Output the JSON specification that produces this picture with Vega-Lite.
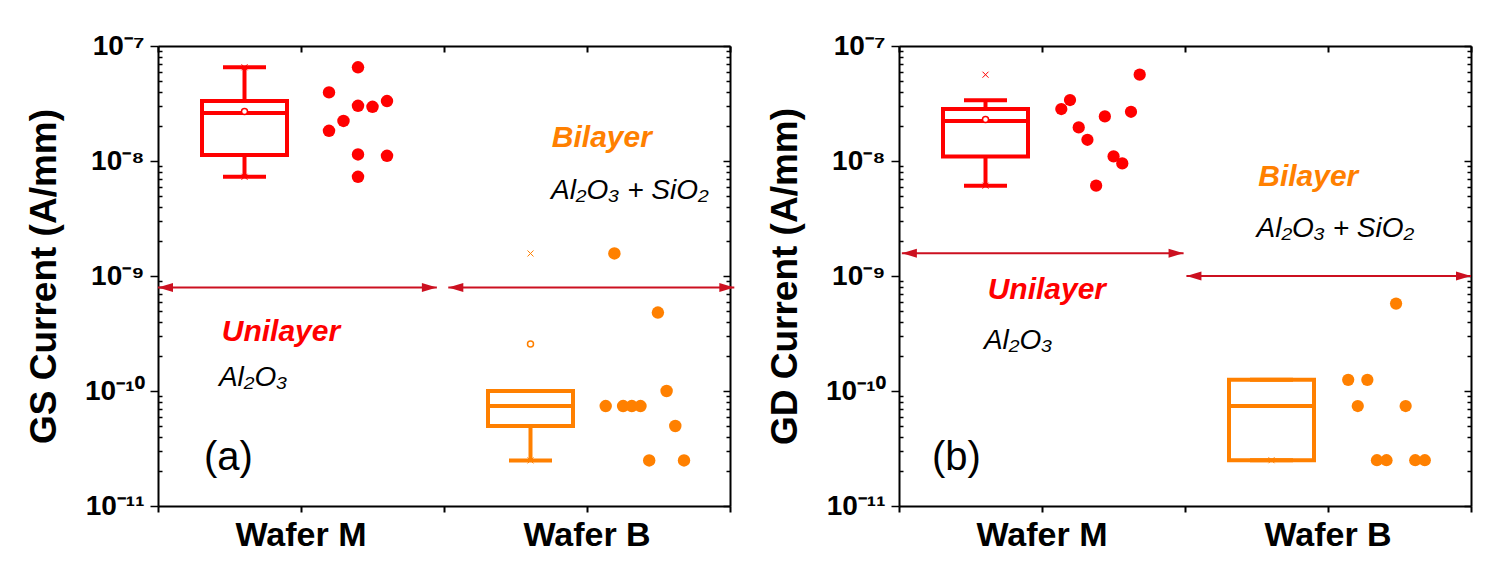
{
  "$schema": "https://vega.github.io/schema/vega-lite/v6.json",
  "background": "white",
  "padding": {"left": 25, "top": 32, "right": 8, "bottom": 5},
  "config": {"font": "Liberation Sans", "view": {"stroke": null}},
  "spacing": 169,
  "bounds": "flush",
  "datasets": {
    "ptsAM": [
      {"wafer": "Wafer M", "slot": 0, "v": 3.95e-8}, {"wafer": "Wafer M", "slot": 0, "v": 1.83e-8},
      {"wafer": "Wafer M", "slot": 1, "v": 2.23e-8}, {"wafer": "Wafer M", "slot": 2, "v": 6.53e-8},
      {"wafer": "Wafer M", "slot": 2, "v": 3.02e-8}, {"wafer": "Wafer M", "slot": 2, "v": 1.14e-8},
      {"wafer": "Wafer M", "slot": 2, "v": 7.29e-9}, {"wafer": "Wafer M", "slot": 3, "v": 2.96e-8},
      {"wafer": "Wafer M", "slot": 4, "v": 3.32e-8}, {"wafer": "Wafer M", "slot": 4, "v": 1.11e-8}
    ],
    "ptsAB": [
      {"wafer": "Wafer B", "slot": 0, "v": 7.4e-11}, {"wafer": "Wafer B", "slot": 1, "v": 1.57e-9},
      {"wafer": "Wafer B", "slot": 2, "v": 7.4e-11}, {"wafer": "Wafer B", "slot": 3, "v": 7.4e-11},
      {"wafer": "Wafer B", "slot": 4, "v": 7.4e-11}, {"wafer": "Wafer B", "slot": 5, "v": 2.49e-11},
      {"wafer": "Wafer B", "slot": 6, "v": 4.81e-10}, {"wafer": "Wafer B", "slot": 7, "v": 1.0e-10},
      {"wafer": "Wafer B", "slot": 8, "v": 4.96e-11}, {"wafer": "Wafer B", "slot": 9, "v": 2.49e-11}
    ],
    "ptsBM": [
      {"wafer": "Wafer M", "slot": 0, "v": 2.83e-8}, {"wafer": "Wafer M", "slot": 1, "v": 3.39e-8},
      {"wafer": "Wafer M", "slot": 2, "v": 1.96e-8}, {"wafer": "Wafer M", "slot": 3, "v": 1.53e-8},
      {"wafer": "Wafer M", "slot": 4, "v": 6.1e-9}, {"wafer": "Wafer M", "slot": 5, "v": 2.44e-8},
      {"wafer": "Wafer M", "slot": 6, "v": 1.096e-8}, {"wafer": "Wafer M", "slot": 7, "v": 9.53e-9},
      {"wafer": "Wafer M", "slot": 8, "v": 2.68e-8}, {"wafer": "Wafer M", "slot": 9, "v": 5.63e-8}
    ],
    "ptsBB": [
      {"wafer": "Wafer B", "slot": 0, "v": 1.25e-10}, {"wafer": "Wafer B", "slot": 1, "v": 7.4e-11},
      {"wafer": "Wafer B", "slot": 2, "v": 1.25e-10}, {"wafer": "Wafer B", "slot": 3, "v": 2.5e-11},
      {"wafer": "Wafer B", "slot": 4, "v": 2.5e-11}, {"wafer": "Wafer B", "slot": 5, "v": 5.76e-10},
      {"wafer": "Wafer B", "slot": 6, "v": 7.4e-11}, {"wafer": "Wafer B", "slot": 7, "v": 2.5e-11},
      {"wafer": "Wafer B", "slot": 8, "v": 2.5e-11}
    ],
    "boxA": [
      {"wafer": "Wafer M", "q1": 1.125e-8, "med": 2.61e-8, "q3": 3.32e-8, "lo": 7.29e-9, "hi": 6.53e-8, "mean": 2.7e-8},
      {"wafer": "Wafer B", "q1": 4.96e-11, "med": 7.4e-11, "q3": 1.0e-10, "lo": 2.49e-11, "hi": 1.0e-10, "mean": 2.56e-10}
    ],
    "boxB": [
      {"wafer": "Wafer M", "q1": 1.096e-8, "med": 2.23e-8, "q3": 2.83e-8, "lo": 6.1e-9, "hi": 3.37e-8, "mean": 2.3e-8},
      {"wafer": "Wafer B", "q1": 2.5e-11, "med": 7.4e-11, "q3": 1.25e-10, "lo": 2.5e-11, "hi": 1.25e-10, "mean": null}
    ],
    "extA": [
      {"wafer": "Wafer M", "v": 6.53e-8}, {"wafer": "Wafer M", "v": 7.29e-9},
      {"wafer": "Wafer B", "v": 1.57e-9}, {"wafer": "Wafer B", "v": 2.49e-11}
    ],
    "extB": [
      {"wafer": "Wafer M", "v": 5.63e-8}, {"wafer": "Wafer M", "v": 6.1e-9},
      {"wafer": "Wafer B", "v": 2.5e-11}
    ],
    "arrA": [{"wafer": "Wafer M", "v": 7.94e-10}, {"wafer": "Wafer B", "v": 7.94e-10}],
    "arrB": [{"wafer": "Wafer M", "v": 1.58e-9}, {"wafer": "Wafer B", "v": 1.0e-9}]
  },
  "hconcat": [
    {
      "width": 572,
      "height": 460,
      "layer": [
        {
          "data": {"name": "boxA"},
          "mark": {"type": "point", "opacity": 0},
          "encoding": {
            "x": {"field": "wafer", "type": "nominal", "scale": {"domain": ["Wafer M", "Wafer B"], "paddingInner": 0, "paddingOuter": 0},
              "axis": {"orient": "bottom", "title": null, "labelAngle": 0, "labelFont": "Liberation Sans", "labelFontWeight": "bold", "labelFontSize": 34, "labelColor": "black", "labelPadding": 6, "tickSize": 6, "tickWidth": 2, "tickColor": "black", "domainWidth": 2, "domainColor": "black", "grid": false}},
            "y": {"field": "med", "type": "quantitative", "scale": {"type": "log", "domain": [1e-11, 1e-7]},
              "axis": {"orient": "left", "title": "GS Current (A/mm)", "grid": false,
                "values": [1e-11,2e-11,3e-11,4e-11,5e-11,6e-11,7e-11,8e-11,9e-11,1e-10,2e-10,3e-10,4e-10,5e-10,6e-10,7e-10,8e-10,9e-10,1e-9,2e-9,3e-9,4e-9,5e-9,6e-9,7e-9,8e-9,9e-9,1e-8,2e-8,3e-8,4e-8,5e-8,6e-8,7e-8,8e-8,9e-8,1e-7],
                "labelExpr": "abs(log(datum.value)/LN10 - round(log(datum.value)/LN10)) >= 0.001 ? '' : round(log(datum.value)/LN10) == -7 ? '10⁻⁷' : round(log(datum.value)/LN10) == -8 ? '10⁻⁸' : round(log(datum.value)/LN10) == -9 ? '10⁻⁹' : round(log(datum.value)/LN10) == -10 ? '10⁻¹⁰' : '10⁻¹¹'",
                "labelFont": "Liberation Sans", "labelFontWeight": "bold", "labelFontSize": 28, "labelColor": "black", "labelPadding": 6, "labelOverlap": false, "labelFlush": false,
                "tickSize": {"condition": {"test": "abs(log(datum.value)/LN10 - round(log(datum.value)/LN10)) < 0.001", "value": 8}, "value": -4},
                "tickWidth": 1.5, "tickColor": "black", "domainWidth": 2, "domainColor": "black",
                "titleFont": "Liberation Sans", "titleFontWeight": "bold", "titleFontSize": 37, "titleColor": "black", "titlePadding": 21}}
          }
        },
        {
          "data": {"name": "boxA"},
          "mark": {"type": "point", "opacity": 0},
          "encoding": {
            "x": {"field": "wafer", "type": "nominal", "scale": {"domain": ["Wafer M", "Wafer B"], "paddingInner": 0, "paddingOuter": 0},
              "axis": {"orient": "top", "title": null, "labels": false, "tickBand": "extent", "tickSize": -6, "tickWidth": 2, "tickColor": "black", "domainWidth": 2, "domainColor": "black", "grid": false}},
            "y": {"field": "med", "type": "quantitative", "scale": {"type": "log", "domain": [1e-11, 1e-7]},
              "axis": {"orient": "right", "title": null, "labels": false, "grid": false,
                "values": [1e-11,2e-11,3e-11,4e-11,5e-11,6e-11,7e-11,8e-11,9e-11,1e-10,2e-10,3e-10,4e-10,5e-10,6e-10,7e-10,8e-10,9e-10,1e-9,2e-9,3e-9,4e-9,5e-9,6e-9,7e-9,8e-9,9e-9,1e-8,2e-8,3e-8,4e-8,5e-8,6e-8,7e-8,8e-8,9e-8,1e-7],
                "tickSize": {"condition": {"test": "abs(log(datum.value)/LN10 - round(log(datum.value)/LN10)) < 0.001", "value": -7}, "value": -4},
                "tickWidth": 1.5, "tickColor": "black", "domainWidth": 2, "domainColor": "black"}}
          }
        },
        {
          "data": {"name": "boxA"},
          "mark": {"type": "point", "opacity": 0},
          "encoding": {
            "x": {"field": "wafer", "type": "nominal", "scale": {"domain": ["Wafer M", "Wafer B"], "paddingInner": 0, "paddingOuter": 0},
              "axis": {"orient": "bottom", "title": null, "labels": false, "tickBand": "extent", "tickSize": 6, "tickWidth": 2, "tickColor": "black", "domain": false, "grid": false}},
            "y": {"field": "med", "type": "quantitative", "scale": {"type": "log", "domain": [1e-11, 1e-7]}, "axis": null}
          }
        },
        {
          "data": {"name": "boxA"},
          "mark": {"type": "point", "opacity": 0},
          "encoding": {
            "x": {"field": "wafer", "type": "nominal", "scale": {"domain": ["Wafer M", "Wafer B"], "paddingInner": 0, "paddingOuter": 0},
              "axis": {"orient": "top", "title": null, "labels": false, "tickSize": -6, "tickWidth": 2, "tickColor": "black", "domain": false, "grid": false}},
            "y": {"field": "med", "type": "quantitative", "scale": {"type": "log", "domain": [1e-11, 1e-7]}, "axis": null}
          }
        },
        {
          "data": {"name": "arrA"},
          "transform": [{"filter": "datum.wafer == 'Wafer M'"}],
          "encoding": {"y": {"field": "v", "type": "quantitative", "axis": null}},
          "layer": [
            {"mark": {"type": "rule", "color": "#cc1020", "strokeWidth": 2},
              "encoding": {"x": {"field": "wafer", "type": "nominal", "bandPosition": 0.0, "axis": null}, "x2": {"field": "wafer", "bandPosition": 0.975}}},
            {"mark": {"type": "point", "shape": "M0,0L1,-0.3L1,0.3Z", "size": 900, "filled": true, "color": "#cc1020", "opacity": 1},
              "encoding": {"x": {"field": "wafer", "type": "nominal", "bandPosition": 0.0, "axis": null}}},
            {"mark": {"type": "point", "shape": "M0,0L-1,-0.3L-1,0.3Z", "size": 900, "filled": true, "color": "#cc1020", "opacity": 1},
              "encoding": {"x": {"field": "wafer", "type": "nominal", "bandPosition": 0.975, "axis": null}}}
          ]
        },
        {
          "data": {"name": "arrA"},
          "transform": [{"filter": "datum.wafer == 'Wafer B'"}],
          "encoding": {"y": {"field": "v", "type": "quantitative", "axis": null}},
          "layer": [
            {"mark": {"type": "rule", "color": "#cc1020", "strokeWidth": 2},
              "encoding": {"x": {"field": "wafer", "type": "nominal", "bandPosition": 0.015, "axis": null}, "x2": {"field": "wafer", "bandPosition": 1.015}}},
            {"mark": {"type": "point", "shape": "M0,0L1,-0.3L1,0.3Z", "size": 900, "filled": true, "color": "#cc1020", "opacity": 1},
              "encoding": {"x": {"field": "wafer", "type": "nominal", "bandPosition": 0.015, "axis": null}}},
            {"mark": {"type": "point", "shape": "M0,0L-1,-0.3L-1,0.3Z", "size": 900, "filled": true, "color": "#cc1020", "opacity": 1},
              "encoding": {"x": {"field": "wafer", "type": "nominal", "bandPosition": 1.015, "axis": null}}}
          ]
        },
        {
          "data": {"name": "boxA"},
          "encoding": {
            "x": {"field": "wafer", "type": "nominal", "axis": null},
            "xOffset": {"datum": "box", "type": "nominal", "scale": {"domain": ["box"], "paddingInner": 0, "paddingOuter": 0, "range": [44, 129]}},
            "color": {"field": "wafer", "type": "nominal", "scale": {"domain": ["Wafer M", "Wafer B"], "range": ["#ff0000", "#ff8000"]}, "legend": null}
          },
          "layer": [
            {"mark": {"type": "rule", "strokeWidth": 4, "opacity": 1}, "encoding": {"y": {"field": "lo", "type": "quantitative", "axis": null}, "y2": {"field": "hi"}}},
            {"mark": {"type": "bar", "fill": "white", "strokeWidth": 4, "opacity": 1}, "encoding": {"y": {"field": "q1", "type": "quantitative", "axis": null}, "y2": {"field": "q3"}, "stroke": {"field": "wafer", "type": "nominal", "scale": {"domain": ["Wafer M", "Wafer B"], "range": ["#ff0000", "#ff8000"]}, "legend": null}}},
            {"mark": {"type": "tick", "size": 85, "thickness": 4, "opacity": 1}, "encoding": {"y": {"field": "med", "type": "quantitative", "axis": null}}},
            {"mark": {"type": "tick", "size": 43, "thickness": 4, "opacity": 1}, "encoding": {"y": {"field": "lo", "type": "quantitative", "axis": null}}},
            {"mark": {"type": "tick", "size": 43, "thickness": 4, "opacity": 1}, "encoding": {"y": {"field": "hi", "type": "quantitative", "axis": null}}},
            {"mark": {"type": "point", "shape": "circle", "size": 36, "filled": false, "fill": "white", "strokeWidth": 1.5, "opacity": 1}, "encoding": {"y": {"field": "mean", "type": "quantitative", "axis": null}}},
            {"data": {"name": "extA"}, "mark": {"type": "point", "shape": "M-1,-1L1,1M-1,1L1,-1", "size": 36, "filled": false, "strokeWidth": 1, "opacity": 1}, "encoding": {"y": {"field": "v", "type": "quantitative", "axis": null}}}
          ]
        },
        {
          "data": {"name": "ptsAM"},
          "mark": {"type": "point", "shape": "circle", "filled": true, "size": 155, "opacity": 1},
          "encoding": {
            "x": {"field": "wafer", "type": "nominal", "axis": null},
            "xOffset": {"field": "slot", "type": "ordinal", "scale": {"type": "point", "domain": [0, 1, 2, 3, 4], "padding": 0, "range": [171, 229]}},
            "y": {"field": "v", "type": "quantitative", "axis": null},
            "color": {"field": "wafer", "type": "nominal", "scale": {"domain": ["Wafer M", "Wafer B"], "range": ["#ff0000", "#ff8000"]}, "legend": null}
          }
        },
        {
          "data": {"name": "ptsAB"},
          "mark": {"type": "point", "shape": "circle", "filled": true, "size": 155, "opacity": 1},
          "encoding": {
            "x": {"field": "wafer", "type": "nominal", "axis": null},
            "xOffset": {"field": "slot", "type": "ordinal", "scale": {"type": "point", "domain": [0, 1, 2, 3, 4, 5, 6, 7, 8, 9], "padding": 0, "range": [161.7, 240]}},
            "y": {"field": "v", "type": "quantitative", "axis": null},
            "color": {"field": "wafer", "type": "nominal", "scale": {"domain": ["Wafer M", "Wafer B"], "range": ["#ff0000", "#ff8000"]}, "legend": null}
          }
        },
        {
          "data": {"values": [{"wafer": "Wafer M", "v": 2.72e-10, "t": "Unilayer"}]},
          "mark": {"type": "text", "align": "left", "baseline": "alphabetic", "font": "Liberation Sans", "fontSize": 30, "fontWeight": "bold", "fontStyle": "italic", "color": "#ff0000"},
          "encoding": {"x": {"field": "wafer", "type": "nominal", "bandPosition": 0.223, "axis": null}, "y": {"field": "v", "type": "quantitative", "axis": null}, "text": {"field": "t"}}
        },
        {
          "data": {"values": [{"wafer": "Wafer M", "v": 1.106e-10, "t": "Al₂O₃"}]},
          "mark": {"type": "text", "align": "left", "baseline": "alphabetic", "font": "Liberation Sans", "fontSize": 28, "fontStyle": "italic", "color": "black"},
          "encoding": {"x": {"field": "wafer", "type": "nominal", "bandPosition": 0.213, "axis": null}, "y": {"field": "v", "type": "quantitative", "axis": null}, "text": {"field": "t"}}
        },
        {
          "data": {"values": [{"wafer": "Wafer M", "v": 2.63e-11, "t": "(a)"}]},
          "mark": {"type": "text", "align": "left", "baseline": "middle", "font": "Liberation Sans", "fontSize": 40, "color": "black"},
          "encoding": {"x": {"field": "wafer", "type": "nominal", "bandPosition": 0.161, "axis": null}, "y": {"field": "v", "type": "quantitative", "axis": null}, "text": {"field": "t"}}
        },
        {
          "data": {"values": [{"wafer": "Wafer B", "v": 1.313e-8, "t": "Bilayer"}]},
          "mark": {"type": "text", "align": "left", "baseline": "alphabetic", "font": "Liberation Sans", "fontSize": 30, "fontWeight": "bold", "fontStyle": "italic", "color": "#ff8000"},
          "encoding": {"x": {"field": "wafer", "type": "nominal", "bandPosition": 0.377, "axis": null}, "y": {"field": "v", "type": "quantitative", "axis": null}, "text": {"field": "t"}}
        },
        {
          "data": {"values": [{"wafer": "Wafer B", "v": 4.66e-9, "t": "Al₂O₃ + SiO₂"}]},
          "mark": {"type": "text", "align": "left", "baseline": "alphabetic", "font": "Liberation Sans", "fontSize": 28, "fontStyle": "italic", "color": "black"},
          "encoding": {"x": {"field": "wafer", "type": "nominal", "bandPosition": 0.374, "axis": null}, "y": {"field": "v", "type": "quantitative", "axis": null}, "text": {"field": "t"}}
        }
      ],
      "resolve": {"scale": {"xOffset": "independent"}, "axis": {"x": "independent", "y": "independent"}}
    },
    {
      "width": 572,
      "height": 460,
      "layer": [
        {
          "data": {"name": "boxB"},
          "mark": {"type": "point", "opacity": 0},
          "encoding": {
            "x": {"field": "wafer", "type": "nominal", "scale": {"domain": ["Wafer M", "Wafer B"], "paddingInner": 0, "paddingOuter": 0},
              "axis": {"orient": "bottom", "title": null, "labelAngle": 0, "labelFont": "Liberation Sans", "labelFontWeight": "bold", "labelFontSize": 34, "labelColor": "black", "labelPadding": 6, "tickSize": 6, "tickWidth": 2, "tickColor": "black", "domainWidth": 2, "domainColor": "black", "grid": false}},
            "y": {"field": "med", "type": "quantitative", "scale": {"type": "log", "domain": [1e-11, 1e-7]},
              "axis": {"orient": "left", "title": "GD Current (A/mm)", "grid": false,
                "values": [1e-11,2e-11,3e-11,4e-11,5e-11,6e-11,7e-11,8e-11,9e-11,1e-10,2e-10,3e-10,4e-10,5e-10,6e-10,7e-10,8e-10,9e-10,1e-9,2e-9,3e-9,4e-9,5e-9,6e-9,7e-9,8e-9,9e-9,1e-8,2e-8,3e-8,4e-8,5e-8,6e-8,7e-8,8e-8,9e-8,1e-7],
                "labelExpr": "abs(log(datum.value)/LN10 - round(log(datum.value)/LN10)) >= 0.001 ? '' : round(log(datum.value)/LN10) == -7 ? '10⁻⁷' : round(log(datum.value)/LN10) == -8 ? '10⁻⁸' : round(log(datum.value)/LN10) == -9 ? '10⁻⁹' : round(log(datum.value)/LN10) == -10 ? '10⁻¹⁰' : '10⁻¹¹'",
                "labelFont": "Liberation Sans", "labelFontWeight": "bold", "labelFontSize": 28, "labelColor": "black", "labelPadding": 6, "labelOverlap": false, "labelFlush": false,
                "tickSize": {"condition": {"test": "abs(log(datum.value)/LN10 - round(log(datum.value)/LN10)) < 0.001", "value": 8}, "value": -4},
                "tickWidth": 1.5, "tickColor": "black", "domainWidth": 2, "domainColor": "black",
                "titleFont": "Liberation Sans", "titleFontWeight": "bold", "titleFontSize": 37, "titleColor": "black", "titlePadding": 21}}
          }
        },
        {
          "data": {"name": "boxB"},
          "mark": {"type": "point", "opacity": 0},
          "encoding": {
            "x": {"field": "wafer", "type": "nominal", "scale": {"domain": ["Wafer M", "Wafer B"], "paddingInner": 0, "paddingOuter": 0},
              "axis": {"orient": "top", "title": null, "labels": false, "tickBand": "extent", "tickSize": -6, "tickWidth": 2, "tickColor": "black", "domainWidth": 2, "domainColor": "black", "grid": false}},
            "y": {"field": "med", "type": "quantitative", "scale": {"type": "log", "domain": [1e-11, 1e-7]},
              "axis": {"orient": "right", "title": null, "labels": false, "grid": false,
                "values": [1e-11,2e-11,3e-11,4e-11,5e-11,6e-11,7e-11,8e-11,9e-11,1e-10,2e-10,3e-10,4e-10,5e-10,6e-10,7e-10,8e-10,9e-10,1e-9,2e-9,3e-9,4e-9,5e-9,6e-9,7e-9,8e-9,9e-9,1e-8,2e-8,3e-8,4e-8,5e-8,6e-8,7e-8,8e-8,9e-8,1e-7],
                "tickSize": {"condition": {"test": "abs(log(datum.value)/LN10 - round(log(datum.value)/LN10)) < 0.001", "value": -7}, "value": -4},
                "tickWidth": 1.5, "tickColor": "black", "domainWidth": 2, "domainColor": "black"}}
          }
        },
        {
          "data": {"name": "boxB"},
          "mark": {"type": "point", "opacity": 0},
          "encoding": {
            "x": {"field": "wafer", "type": "nominal", "scale": {"domain": ["Wafer M", "Wafer B"], "paddingInner": 0, "paddingOuter": 0},
              "axis": {"orient": "bottom", "title": null, "labels": false, "tickBand": "extent", "tickSize": 6, "tickWidth": 2, "tickColor": "black", "domain": false, "grid": false}},
            "y": {"field": "med", "type": "quantitative", "scale": {"type": "log", "domain": [1e-11, 1e-7]}, "axis": null}
          }
        },
        {
          "data": {"name": "boxB"},
          "mark": {"type": "point", "opacity": 0},
          "encoding": {
            "x": {"field": "wafer", "type": "nominal", "scale": {"domain": ["Wafer M", "Wafer B"], "paddingInner": 0, "paddingOuter": 0},
              "axis": {"orient": "top", "title": null, "labels": false, "tickSize": -6, "tickWidth": 2, "tickColor": "black", "domain": false, "grid": false}},
            "y": {"field": "med", "type": "quantitative", "scale": {"type": "log", "domain": [1e-11, 1e-7]}, "axis": null}
          }
        },
        {
          "data": {"name": "arrB"},
          "transform": [{"filter": "datum.wafer == 'Wafer M'"}],
          "encoding": {"y": {"field": "v", "type": "quantitative", "axis": null}},
          "layer": [
            {"mark": {"type": "rule", "color": "#cc1020", "strokeWidth": 2},
              "encoding": {"x": {"field": "wafer", "type": "nominal", "bandPosition": 0.01, "axis": null}, "x2": {"field": "wafer", "bandPosition": 0.995}}},
            {"mark": {"type": "point", "shape": "M0,0L1,-0.3L1,0.3Z", "size": 900, "filled": true, "color": "#cc1020", "opacity": 1},
              "encoding": {"x": {"field": "wafer", "type": "nominal", "bandPosition": 0.01, "axis": null}}},
            {"mark": {"type": "point", "shape": "M0,0L-1,-0.3L-1,0.3Z", "size": 900, "filled": true, "color": "#cc1020", "opacity": 1},
              "encoding": {"x": {"field": "wafer", "type": "nominal", "bandPosition": 0.995, "axis": null}}}
          ]
        },
        {
          "data": {"name": "arrB"},
          "transform": [{"filter": "datum.wafer == 'Wafer B'"}],
          "encoding": {"y": {"field": "v", "type": "quantitative", "axis": null}},
          "layer": [
            {"mark": {"type": "rule", "color": "#cc1020", "strokeWidth": 2},
              "encoding": {"x": {"field": "wafer", "type": "nominal", "bandPosition": 0.005, "axis": null}, "x2": {"field": "wafer", "bandPosition": 1.0}}},
            {"mark": {"type": "point", "shape": "M0,0L1,-0.3L1,0.3Z", "size": 900, "filled": true, "color": "#cc1020", "opacity": 1},
              "encoding": {"x": {"field": "wafer", "type": "nominal", "bandPosition": 0.005, "axis": null}}},
            {"mark": {"type": "point", "shape": "M0,0L-1,-0.3L-1,0.3Z", "size": 900, "filled": true, "color": "#cc1020", "opacity": 1},
              "encoding": {"x": {"field": "wafer", "type": "nominal", "bandPosition": 1.0, "axis": null}}}
          ]
        },
        {
          "data": {"name": "boxB"},
          "encoding": {
            "x": {"field": "wafer", "type": "nominal", "axis": null},
            "xOffset": {"datum": "box", "type": "nominal", "scale": {"domain": ["box"], "paddingInner": 0, "paddingOuter": 0, "range": [44, 129]}},
            "color": {"field": "wafer", "type": "nominal", "scale": {"domain": ["Wafer M", "Wafer B"], "range": ["#ff0000", "#ff8000"]}, "legend": null}
          },
          "layer": [
            {"mark": {"type": "rule", "strokeWidth": 4, "opacity": 1}, "encoding": {"y": {"field": "lo", "type": "quantitative", "axis": null}, "y2": {"field": "hi"}}},
            {"mark": {"type": "bar", "fill": "white", "strokeWidth": 4, "opacity": 1}, "encoding": {"y": {"field": "q1", "type": "quantitative", "axis": null}, "y2": {"field": "q3"}, "stroke": {"field": "wafer", "type": "nominal", "scale": {"domain": ["Wafer M", "Wafer B"], "range": ["#ff0000", "#ff8000"]}, "legend": null}}},
            {"mark": {"type": "tick", "size": 85, "thickness": 4, "opacity": 1}, "encoding": {"y": {"field": "med", "type": "quantitative", "axis": null}}},
            {"mark": {"type": "tick", "size": 43, "thickness": 4, "opacity": 1}, "encoding": {"y": {"field": "lo", "type": "quantitative", "axis": null}}},
            {"mark": {"type": "tick", "size": 43, "thickness": 4, "opacity": 1}, "encoding": {"y": {"field": "hi", "type": "quantitative", "axis": null}}},
            {"mark": {"type": "point", "shape": "circle", "size": 36, "filled": false, "fill": "white", "strokeWidth": 1.5, "opacity": 1}, "encoding": {"y": {"field": "mean", "type": "quantitative", "axis": null}}},
            {"data": {"name": "extB"}, "mark": {"type": "point", "shape": "M-1,-1L1,1M-1,1L1,-1", "size": 36, "filled": false, "strokeWidth": 1, "opacity": 1}, "encoding": {"y": {"field": "v", "type": "quantitative", "axis": null}}}
          ]
        },
        {
          "data": {"name": "ptsBM"},
          "mark": {"type": "point", "shape": "circle", "filled": true, "size": 150, "opacity": 1},
          "encoding": {
            "x": {"field": "wafer", "type": "nominal", "axis": null},
            "xOffset": {"field": "slot", "type": "ordinal", "scale": {"type": "point", "domain": [0, 1, 2, 3, 4, 5, 6, 7, 8, 9], "padding": 0, "range": [162.3, 240.7]}},
            "y": {"field": "v", "type": "quantitative", "axis": null},
            "color": {"field": "wafer", "type": "nominal", "scale": {"domain": ["Wafer M", "Wafer B"], "range": ["#ff0000", "#ff8000"]}, "legend": null}
          }
        },
        {
          "data": {"name": "ptsBB"},
          "mark": {"type": "point", "shape": "circle", "filled": true, "size": 150, "opacity": 1},
          "encoding": {
            "x": {"field": "wafer", "type": "nominal", "axis": null},
            "xOffset": {"field": "slot", "type": "ordinal", "scale": {"type": "point", "domain": [0, 1, 2, 3, 4, 5, 6, 7, 8], "padding": 0, "range": [163.2, 239.8]}},
            "y": {"field": "v", "type": "quantitative", "axis": null},
            "color": {"field": "wafer", "type": "nominal", "scale": {"domain": ["Wafer M", "Wafer B"], "range": ["#ff0000", "#ff8000"]}, "legend": null}
          }
        },
        {
          "data": {"values": [{"wafer": "Wafer M", "v": 6.28e-10, "t": "Unilayer"}]},
          "mark": {"type": "text", "align": "left", "baseline": "alphabetic", "font": "Liberation Sans", "fontSize": 30, "fontWeight": "bold", "fontStyle": "italic", "color": "#ff0000"},
          "encoding": {"x": {"field": "wafer", "type": "nominal", "bandPosition": 0.31, "axis": null}, "y": {"field": "v", "type": "quantitative", "axis": null}, "text": {"field": "t"}}
        },
        {
          "data": {"values": [{"wafer": "Wafer M", "v": 2.31e-10, "t": "Al₂O₃"}]},
          "mark": {"type": "text", "align": "left", "baseline": "alphabetic", "font": "Liberation Sans", "fontSize": 28, "fontStyle": "italic", "color": "black"},
          "encoding": {"x": {"field": "wafer", "type": "nominal", "bandPosition": 0.297, "axis": null}, "y": {"field": "v", "type": "quantitative", "axis": null}, "text": {"field": "t"}}
        },
        {
          "data": {"values": [{"wafer": "Wafer M", "v": 2.63e-11, "t": "(b)"}]},
          "mark": {"type": "text", "align": "left", "baseline": "middle", "font": "Liberation Sans", "fontSize": 40, "color": "black"},
          "encoding": {"x": {"field": "wafer", "type": "nominal", "bandPosition": 0.115, "axis": null}, "y": {"field": "v", "type": "quantitative", "axis": null}, "text": {"field": "t"}}
        },
        {
          "data": {"values": [{"wafer": "Wafer B", "v": 6.08e-9, "t": "Bilayer"}]},
          "mark": {"type": "text", "align": "left", "baseline": "alphabetic", "font": "Liberation Sans", "fontSize": 30, "fontWeight": "bold", "fontStyle": "italic", "color": "#ff8000"},
          "encoding": {"x": {"field": "wafer", "type": "nominal", "bandPosition": 0.256, "axis": null}, "y": {"field": "v", "type": "quantitative", "axis": null}, "text": {"field": "t"}}
        },
        {
          "data": {"values": [{"wafer": "Wafer B", "v": 2.18e-9, "t": "Al₂O₃ + SiO₂"}]},
          "mark": {"type": "text", "align": "left", "baseline": "alphabetic", "font": "Liberation Sans", "fontSize": 28, "fontStyle": "italic", "color": "black"},
          "encoding": {"x": {"field": "wafer", "type": "nominal", "bandPosition": 0.25, "axis": null}, "y": {"field": "v", "type": "quantitative", "axis": null}, "text": {"field": "t"}}
        }
      ],
      "resolve": {"scale": {"xOffset": "independent"}, "axis": {"x": "independent", "y": "independent"}}
    }
  ]
}
